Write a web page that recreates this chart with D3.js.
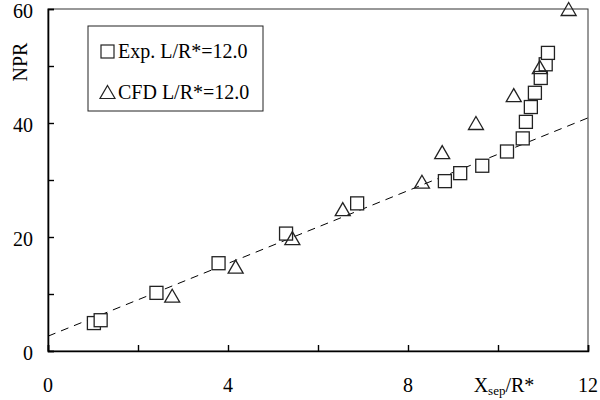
<!DOCTYPE html>
<html><head><meta charset="utf-8">
<script src="https://cdn.jsdelivr.net/npm/d3@7"></script>
<style>body{margin:0;background:#fff}svg{display:block}text{font-family:"Liberation Serif","Times New Roman",serif;fill:#000}</style>
</head><body><svg id="c" width="600" height="400"></svg>
<script>
const expX = [1.02,1.17,2.41,3.79,5.29,6.87,8.82,9.16,9.65,10.2,10.55,10.62,10.73,10.82,10.95,11.06,11.11];
const expY = [4.9,5.4,10.2,15.4,20.6,25.9,29.8,31.2,32.5,35.0,37.3,40.2,42.8,45.3,47.9,50.3,52.3];
const cfdX = [2.76,4.17,5.43,6.55,8.31,8.76,9.51,10.35,10.93,11.57];
const cfdY = [9.7,14.8,19.8,24.9,29.7,34.9,40.0,44.9,49.8,60.0];
const fitX = [0,12];
const fitY = [2.6,40.9];
const xTickLabels = [0,4,8,12];
const yTickLabels = [0,20,40,60];
const legendLabels = ["Exp. L/R*=12.0","CFD L/R*=12.0"];

const svg = d3.select("#c");
const L=48,R=588,T=9,B=351;
const x = d3.scaleLinear().domain([0,12]).range([L,R]);
const y = d3.scaleLinear().domain([0,60]).range([B,T]);

// frame
svg.append("rect").attr("x",L).attr("y",T).attr("width",R-L).attr("height",B-T)
  .attr("fill","none").attr("stroke","#333").attr("stroke-width",1);

// axes with inward ticks
const xAx = d3.axisBottom(x).tickValues(d3.range(0,13,2)).tickSize(-6).tickFormat("");
const gx = svg.append("g").attr("transform",`translate(0,${B})`).call(xAx);
const yAx = d3.axisLeft(y).tickValues(d3.range(0,61,10)).tickSize(-6).tickFormat("");
const gy = svg.append("g").attr("transform",`translate(${L},0)`).call(yAx);
[gx,gy].forEach(g=>{g.select(".domain").attr("stroke","#000").attr("stroke-width",1.6);
  g.selectAll(".tick line").attr("stroke","#000").attr("stroke-width",1.4);});

// tick labels
svg.append("g").selectAll("text").data(xTickLabels).join("text")
  .attr("x",d=>x(d)).attr("y",392).attr("text-anchor","middle").attr("font-size",20).text(d=>d);
svg.append("g").selectAll("text").data(yTickLabels).join("text")
  .attr("x",33).attr("y",d=>y(d)+9).attr("text-anchor","end").attr("font-size",20).text(d=>d);

// axis titles
const xt = svg.append("text").attr("x",504).attr("y",392).attr("text-anchor","middle").attr("font-size",20);
xt.append("tspan").text("X");
xt.append("tspan").attr("font-size",13).attr("dy",3).text("sep");
xt.append("tspan").attr("dy",-3).text("/R*");
svg.append("text").attr("transform","translate(27,62) rotate(-90)").attr("text-anchor","middle")
  .attr("font-size",20).text("NPR");

// fit line
svg.append("path").datum(fitX.map((d,i)=>[d,fitY[i]]))
  .attr("d",d3.line().x(d=>x(d[0])).y(d=>y(d[1])))
  .attr("fill","none").attr("stroke","#000").attr("stroke-width",1).attr("stroke-dasharray","8,6");

const s=13;
function tri(cx,cy){const h=13,w=15;return `M${cx},${cy-h/2}L${cx+w/2},${cy+h/2}L${cx-w/2},${cy+h/2}Z`;}
// exp squares
svg.append("g").selectAll("rect").data(expX.map((d,i)=>[d,expY[i]])).join("rect")
  .attr("x",d=>x(d[0])-s/2).attr("y",d=>y(d[1])-s/2).attr("width",s).attr("height",s)
  .attr("fill","#fff").attr("stroke","#222").attr("stroke-width",1.3);
// cfd triangles
svg.append("g").selectAll("path").data(cfdX.map((d,i)=>[d,cfdY[i]])).join("path")
  .attr("d",d=>tri(x(d[0]),y(d[1])))
  .attr("fill","none").attr("stroke","#222").attr("stroke-width",1.3);

// legend
svg.append("rect").attr("x",88).attr("y",26).attr("width",175).attr("height",85)
  .attr("fill","#fff").attr("stroke","#222").attr("stroke-width",1);
svg.append("rect").attr("x",101).attr("y",45).attr("width",13).attr("height",13)
  .attr("fill","none").attr("stroke","#222").attr("stroke-width",1.2);
svg.append("path").attr("d",tri(107.5,92)).attr("fill","none").attr("stroke","#222").attr("stroke-width",1.2);
svg.append("g").selectAll("text").data(legendLabels).join("text")
  .attr("x",118).attr("y",(d,i)=>58+i*41).attr("font-size",20).text(d=>d);
</script></body></html>
